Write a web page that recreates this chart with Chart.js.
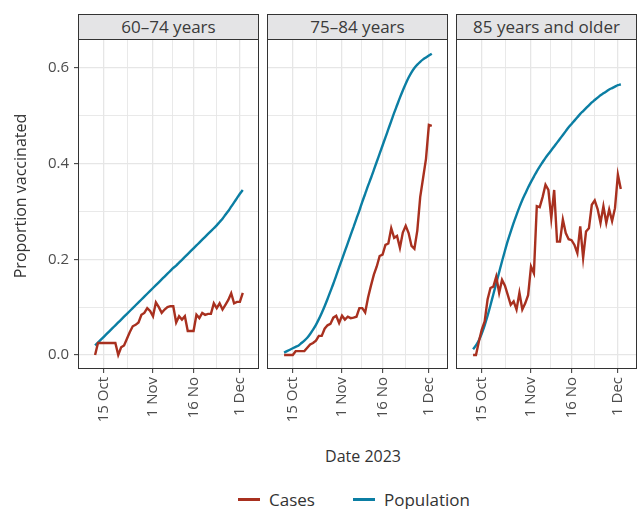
<!DOCTYPE html>
<html>
<head>
<meta charset="utf-8">
<script src="https://cdn.jsdelivr.net/npm/chart.js@4/dist/chart.umd.min.js"></script>
<style>
  body { margin: 0; background: #fff; font-family: 'Open Sans', sans-serif; }
  #wrap { position: relative; width: 637px; height: 509px; overflow: hidden; }
  canvas { position: absolute; top: 39px; }
  .strip {
    position: absolute; top: 14px; height: 25px; box-sizing: border-box;
    border: 1px solid #333; border-bottom: none; background: #e4e4e6;
    color: #3a3a3a; font-size: 17px; text-align: center; line-height: 23px;
  }
  #ytitle {
    position: absolute; left: 20px; top: 196px; width: 220px; margin-left: -110px;
    text-align: center; transform: rotate(-90deg); font-size: 16px; color: #333;
    line-height: 20px; margin-top: -10px;
  }
  #xtitle { position: absolute; left: 263px; width: 200px; top: 445px; text-align: center; font-size: 16px; color: #333; }
  .item { position: absolute; top: 488px; display: flex; align-items: center; font-size: 17px; color: #333; }
  .sw { width: 22px; height: 3px; margin-right: 9px; }
</style>
</head>
<body>
<div id="wrap">
  <div class="strip" style="left:78px;width:181px">60–74 years</div>
  <div class="strip" style="left:267px;width:181px">75–84 years</div>
  <div class="strip" style="left:456px;width:181px">85 years and older</div>
  <canvas id="p1" width="259" height="400" style="left:0"></canvas>
  <canvas id="p2" width="181" height="400" style="left:267px"></canvas>
  <canvas id="p3" width="181" height="400" style="left:456px"></canvas>
  <div id="ytitle">Proportion vaccinated</div>
  <div id="xtitle">Date 2023</div>
  <div class="item" style="left:238px"><span class="sw" style="background:#a8301f"></span>Cases</div>
  <div class="item" style="left:353px"><span class="sw" style="background:#0b7ea3"></span>Population</div>
</div>
<script>
// day number counted from 30 Sep 2023 (1 = 1 Oct, 32 = 1 Nov, 62 = 1 Dec)
const days = [12, 13, 14, 15, 16, 17, 18, 19, 20, 21, 22, 23, 24, 25, 26, 27, 28, 29, 30, 31,
  32, 33, 34, 35, 36, 37, 38, 39, 40, 41, 42, 43, 44, 45, 46, 47, 48, 49, 50, 51,
  52, 53, 54, 55, 56, 57, 58, 59, 60, 61, 62, 63];

const cases6074 = [0.000, 0.025, 0.025, 0.025, 0.025, 0.025, 0.025, 0.025, 0.000, 0.016,
  0.020, 0.034, 0.048, 0.060, 0.063, 0.068, 0.084, 0.088, 0.098, 0.092,
  0.081, 0.110, 0.100, 0.088, 0.095, 0.100, 0.102, 0.102, 0.068, 0.081,
  0.074, 0.081, 0.050, 0.050, 0.050, 0.084, 0.077, 0.088, 0.084, 0.086,
  0.086, 0.108, 0.098, 0.108, 0.095, 0.105, 0.115, 0.129, 0.108, 0.111,
  0.111, 0.130];
const pop6074 = [0.020, 0.026, 0.032, 0.038, 0.044, 0.050, 0.056, 0.062, 0.068, 0.074,
  0.080, 0.086, 0.092, 0.098, 0.104, 0.110, 0.116, 0.122, 0.128, 0.134,
  0.140, 0.146, 0.152, 0.158, 0.164, 0.170, 0.176, 0.182, 0.187, 0.193,
  0.199, 0.205, 0.211, 0.217, 0.223, 0.229, 0.235, 0.241, 0.247, 0.253,
  0.259, 0.265, 0.271, 0.278, 0.285, 0.293, 0.301, 0.310, 0.319, 0.328,
  0.337, 0.345];

const cases7584 = [0.000, 0.000, 0.000, 0.000, 0.008, 0.008, 0.008, 0.008, 0.015, 0.022,
  0.025, 0.030, 0.040, 0.040, 0.055, 0.062, 0.065, 0.078, 0.082, 0.067,
  0.082, 0.074, 0.080, 0.077, 0.078, 0.080, 0.098, 0.098, 0.089, 0.120,
  0.145, 0.168, 0.185, 0.207, 0.210, 0.230, 0.233, 0.265, 0.245, 0.249,
  0.224, 0.256, 0.270, 0.255, 0.228, 0.222, 0.260, 0.330, 0.370, 0.410,
  0.481, 0.479];
const pop7584 = [0.005, 0.008, 0.011, 0.014, 0.017, 0.020, 0.025, 0.030, 0.036, 0.044,
  0.053, 0.063, 0.075, 0.088, 0.102, 0.117, 0.133, 0.149, 0.166, 0.183,
  0.200, 0.217, 0.234, 0.251, 0.268, 0.285, 0.302, 0.320, 0.337, 0.354,
  0.370, 0.387, 0.404, 0.421, 0.438, 0.455, 0.472, 0.489, 0.506, 0.522,
  0.538, 0.553, 0.567, 0.580, 0.591, 0.600, 0.607, 0.613, 0.618, 0.622,
  0.626, 0.630];

const cases85 = [0.000, 0.000, 0.028, 0.053, 0.070, 0.116, 0.140, 0.143, 0.164, 0.130,
  0.157, 0.145, 0.125, 0.105, 0.112, 0.095, 0.130, 0.095, 0.108, 0.125,
  0.185, 0.171, 0.311, 0.309, 0.330, 0.356, 0.345, 0.286, 0.345, 0.237,
  0.237, 0.283, 0.255, 0.242, 0.240, 0.230, 0.213, 0.269, 0.203, 0.258,
  0.265, 0.314, 0.323, 0.305, 0.276, 0.311, 0.276, 0.304, 0.280, 0.307,
  0.377, 0.347];
const pop85 = [0.012, 0.020, 0.031, 0.045, 0.062, 0.082, 0.104, 0.127, 0.150, 0.173,
  0.196, 0.218, 0.239, 0.258, 0.276, 0.293, 0.309, 0.324, 0.337, 0.350,
  0.362, 0.373, 0.384, 0.394, 0.403, 0.412, 0.420, 0.428, 0.436, 0.444,
  0.452, 0.460, 0.468, 0.476, 0.483, 0.490, 0.497, 0.504, 0.510, 0.516,
  0.522, 0.528, 0.533, 0.538, 0.543, 0.547, 0.551, 0.555, 0.558, 0.561,
  0.564, 0.566];

const xTickValues = [15, 32, 46, 62];
const xTickLabels = ['15 Oct', '1 Nov', '16 No', '1 Dec'];
const xMinorValues = [23.3, 38.7, 53.9];
const yTickValues = [0, 0.2, 0.4, 0.6];
const yMinorValues = [0.1, 0.3, 0.5];

const RED = '#a8301f';
const BLUE = '#0b7ea3';
const GRID = '#e6e6e6';

const panelBorder = {
  id: 'panelBorder',
  afterDraw(chart) {
    const a = chart.chartArea, c = chart.ctx;
    c.save();
    c.strokeStyle = '#333';
    c.lineWidth = 1;
    c.strokeRect(Math.round(a.left) + 0.5, Math.round(a.top) + 0.5,
                 Math.round(a.right - a.left) - 1, Math.round(a.bottom - a.top) - 1);
    c.restore();
  }
};

function makePanel(id, cases, pop, showY) {
  const isXMajor = v => xTickValues.includes(v);
  const isYMajor = v => yTickValues.some(t => Math.abs(t - v) < 1e-9);
  return new Chart(document.getElementById(id), {
    type: 'line',
    data: {
      datasets: [
        { label: 'Cases', data: days.map((d, i) => ({ x: d, y: cases[i] })),
          borderColor: RED, borderWidth: 2.4, pointRadius: 0, tension: 0 },
        { label: 'Population', data: days.map((d, i) => ({ x: d, y: pop[i] })),
          borderColor: BLUE, borderWidth: 2.4, pointRadius: 0, cubicInterpolationMode: 'monotone' }
      ]
    },
    options: {
      responsive: false,
      animation: false,
      events: [],
      layout: { padding: 0 },
      plugins: { legend: { display: false }, tooltip: { enabled: false } },
      scales: {
        x: {
          type: 'linear', min: 6.1, max: 68.6,
          afterBuildTicks: s => {
            s.ticks = xTickValues.concat(xMinorValues).sort((a, b) => a - b).map(v => ({ value: v }));
          },
          afterFit: s => { s.height = 70; s.paddingLeft = 0; s.paddingRight = 0; },
          ticks: {
            autoSkip: false, maxRotation: 90, minRotation: 90, padding: 4,
            color: '#4d4d4d', font: { family: 'Open Sans', size: 15 },
            callback: v => { const i = xTickValues.indexOf(v); return i < 0 ? '' : xTickLabels[i]; }
          },
          grid: {
            color: GRID,
            lineWidth: ctx => (ctx.tick && isXMajor(ctx.tick.value)) ? 1.3 : 0.9,
            tickColor: ctx => (ctx.tick && isXMajor(ctx.tick.value)) ? '#333' : 'rgba(0,0,0,0)',
            tickLength: 4, tickWidth: 1
          },
          border: { display: false }
        },
        y: {
          type: 'linear', min: -0.0293, max: 0.6606,
          afterBuildTicks: s => {
            s.ticks = yTickValues.concat(yMinorValues).sort((a, b) => a - b).map(v => ({ value: v }));
          },
          afterFit: s => { s.width = showY ? 78 : 0; s.paddingTop = 0; s.paddingBottom = 0; },
          ticks: {
            display: showY, padding: 5,
            color: '#4d4d4d', font: { family: 'Open Sans', size: 15 },
            callback: v => isYMajor(v) ? v.toFixed(1) : ''
          },
          grid: {
            color: GRID,
            lineWidth: ctx => (ctx.tick && isYMajor(ctx.tick.value)) ? 1.3 : 0.9,
            drawTicks: showY,
            tickColor: ctx => (ctx.tick && isYMajor(ctx.tick.value)) ? '#333' : 'rgba(0,0,0,0)',
            tickLength: 4, tickWidth: 1
          },
          border: { display: false }
        }
      }
    },
    plugins: [panelBorder]
  });
}

makePanel('p1', cases6074, pop6074, true);
makePanel('p2', cases7584, pop7584, false);
makePanel('p3', cases85, pop85, false);
</script>
</body>
</html>
